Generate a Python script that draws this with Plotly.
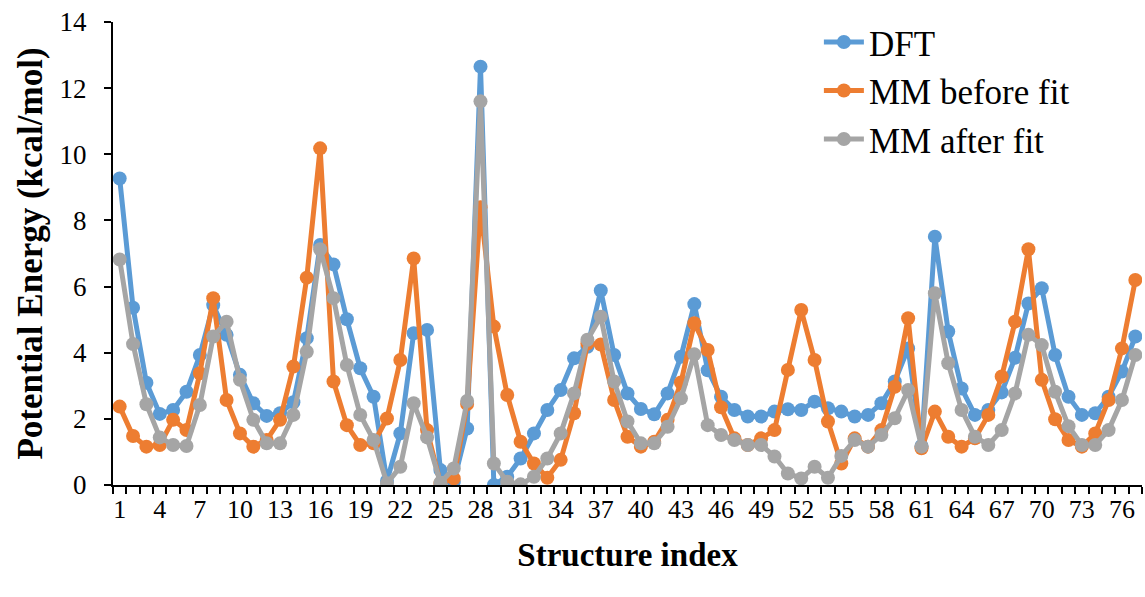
import plotly.graph_objects as go

structure_index = list(range(1, 78))

dft = [9.27, 5.36, 3.09, 2.15, 2.27, 2.82, 3.93, 5.44, 4.54, 3.33,
       2.47, 2.09, 2.17, 2.50, 4.44, 7.26, 6.67, 5.01, 3.53, 2.67,
       0.12, 1.56, 4.59, 4.69, 0.45, 0.10, 1.71, 12.65, 0.00, 0.25,
       0.80, 1.56, 2.27, 2.87, 3.83, 4.18, 5.88, 3.93, 2.77, 2.30,
       2.14, 2.77, 3.88, 5.47, 3.47, 2.67, 2.27, 2.07, 2.07, 2.22,
       2.29, 2.27, 2.52, 2.32, 2.22, 2.07, 2.12, 2.47, 3.13, 4.13,
       1.18, 7.51, 4.64, 2.92, 2.12, 2.27, 2.80, 3.85, 5.49, 5.95,
       3.93, 2.67, 2.12, 2.17, 2.67, 3.43, 4.49]

mm_before = [2.37, 1.48, 1.16, 1.21, 1.97, 1.66, 3.38, 5.65, 2.57, 1.56,
             1.16, 1.36, 1.97, 3.58, 6.27, 10.18, 3.13, 1.81, 1.21, 1.26,
             2.01, 3.78, 6.85, 1.66, 0.05, 0.20, 2.45, 8.40, 4.79, 2.72,
             1.31, 0.65, 0.22, 0.76, 2.17, 4.28, 4.25, 2.57, 1.46, 1.16,
             1.31, 1.97, 3.10, 4.89, 4.08, 2.35, 1.41, 1.21, 1.41, 1.66,
             3.48, 5.29, 3.78, 1.92, 0.65, 1.41, 1.16, 1.66, 2.97, 5.04,
             1.11, 2.22, 1.46, 1.16, 1.41, 2.12, 3.28, 4.94, 7.13, 3.18,
             1.99, 1.36, 1.16, 1.56, 2.57, 4.13, 6.20]

mm_after = [6.82, 4.26, 2.44, 1.44, 1.21, 1.18, 2.42, 4.49, 4.94, 3.18,
            1.97, 1.26, 1.26, 2.12, 4.03, 7.13, 5.65, 3.63, 2.12, 1.36,
            0.05, 0.55, 2.47, 1.44, 0.07, 0.50, 2.54, 11.60, 0.65, 0.10,
            0.02, 0.25, 0.80, 1.56, 2.77, 4.39, 5.09, 3.13, 1.92, 1.26,
            1.26, 1.76, 2.62, 3.95, 1.81, 1.51, 1.36, 1.21, 1.21, 0.86,
            0.35, 0.20, 0.55, 0.22, 0.88, 1.36, 1.16, 1.51, 2.02, 2.87,
            1.16, 5.80, 3.68, 2.27, 1.46, 1.21, 1.66, 2.77, 4.54, 4.23,
            2.82, 1.78, 1.21, 1.21, 1.66, 2.57, 3.93]

x_tick_vals = list(range(1, 78, 3))
x_tick_text = [str(v) for v in x_tick_vals]

series = [
    ("DFT", dft, "#5B9BD5"),
    ("MM before fit", mm_before, "#ED7D31"),
    ("MM after fit", mm_after, "#A5A5A5"),
]

fig = go.Figure()
for name, vals, color in series:
    fig.add_trace(go.Scatter(
        x=structure_index, y=vals, name=name, mode="lines+markers",
        line=dict(color=color, width=5),
        marker=dict(color=color, size=14),
    ))

serif = "Liberation Serif, Times New Roman, serif"

fig.update_layout(
    width=1145, height=597,
    margin=dict(l=113, r=3, t=22, b=112),
    paper_bgcolor="white", plot_bgcolor="white",
    font=dict(family=serif, color="black"),
    showlegend=True,
    legend=dict(
        x=0.686, y=1.02, xanchor="left", yanchor="top",
        font=dict(family=serif, size=35, color="black"),
        bgcolor="rgba(0,0,0,0)", itemwidth=40,
        tracegroupgap=0,
    ),
    xaxis=dict(
        range=[0.5, 77.5],
        tickvals=x_tick_vals, ticktext=x_tick_text,
        ticks="", showgrid=False, zeroline=False,
        showline=True, linecolor="black", linewidth=2,
        tickfont=dict(family=serif, size=26, color="black"),
        minor=dict(tick0=0.5, dtick=1, ticks="outside", ticklen=7,
                   tickcolor="black", tickwidth=2, showgrid=False),
        title=dict(text="<b>Structure index</b>",
                   font=dict(family=serif, size=33, color="black"),
                   standoff=20),
    ),
    yaxis=dict(
        range=[0, 14], dtick=2,
        ticks="outside", ticklen=7, tickcolor="black", tickwidth=2,
        ticklabelstandoff=12,
        showgrid=False, zeroline=False,
        showline=True, linecolor="black", linewidth=2,
        tickfont=dict(family=serif, size=27, color="black"),
        title=dict(text="<b>Potential Energy (kcal/mol)</b>",
                   font=dict(family=serif, size=35, color="black"),
                   standoff=6),
    ),
)

fig.write_html("out.html")
